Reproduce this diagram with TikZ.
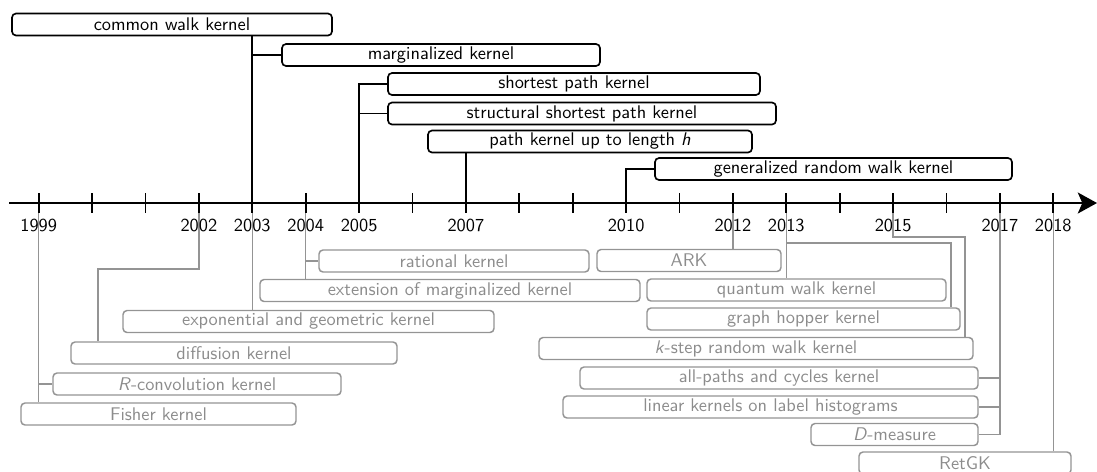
\documentclass[tikz,border=0pt]{standalone}
\usetikzlibrary{arrows.meta}
\begin{document}
\begin{tikzpicture}[x=0.545pt,y=-0.545pt,
  font=\sffamily,
  kb/.style={draw, rounded corners=2.2pt, inner sep=0pt, line width=0.9pt, minimum height=22*0.545pt},
  gb/.style={kb, draw=black!42, text=black!45, line width=0.8pt},
  bl/.style={line width=0.9pt},
  gl/.style={draw=black!42, line width=0.8pt},
  yl/.style={inner sep=0pt}]
\useasboundingbox (0,0) rectangle (1097,471);
% year coordinates
\foreach \i in {1999,...,2018}
  \coordinate (t\i) at ({38.7+(\i-1999)*53.4},203);
% top kernels
\node[kb, minimum width=320*0.545pt] (cwk) at (172,24.5) {common walk kernel};
\node[kb, minimum width=318*0.545pt] (mk) at (441,55) {marginalized kernel};
\node[kb, minimum width=372*0.545pt] (spk) at (574,84) {shortest path kernel};
\node[kb, minimum width=388*0.545pt] (sspk) at (582,113.5) {structural shortest path kernel};
\node[kb, minimum width=324*0.545pt] (pkh) at (590,141.5) {path kernel up to length \textit{h}};
\node[kb, minimum width=357*0.545pt] (grwk) at (833.5,169) {generalized random walk kernel};
% bottom kernels
\node[gb, minimum width=270*0.545pt] (rat) at (454,261) {rational kernel};
\node[gb, minimum width=380*0.545pt] (ext) at (450,290.5) {extension of marginalized kernel};
\node[gb, minimum width=371*0.545pt] (expg) at (308.5,321.5) {exponential and geometric kernel};
\node[gb, minimum width=326*0.545pt] (diff) at (234,353) {diffusion kernel};
\node[gb, minimum width=288*0.545pt] (rconv) at (197,384) {\textit{R}-convolution kernel};
\node[gb, minimum width=275*0.545pt] (fish) at (158.5,414) {Fisher kernel};
\node[gb, minimum width=184*0.545pt] (ark) at (689,260.5) {ARK};
\node[gb, minimum width=299*0.545pt] (qwk) at (796.5,290) {quantum walk kernel};
\node[gb, minimum width=313*0.545pt] (ghk) at (803.5,319) {graph hopper kernel};
\node[gb, minimum width=434*0.545pt] (kstep) at (756,348.5) {\textit{k}-step random walk kernel};
\node[gb, minimum width=398*0.545pt] (apc) at (779,378) {all-paths and cycles kernel};
\node[gb, minimum width=415*0.545pt] (lin) at (770.5,407) {linear kernels on label histograms};
\node[gb, minimum width=167*0.545pt] (dm) at (894.5,434.5) {\textit{D}-measure};
\node[gb, minimum width=212*0.545pt] (ret) at (965,463) {RetGK};
% helper coordinates
\coordinate (c2002) at (98,269);
\coordinate (c2013) at (951,243);
\coordinate (c2015) at (965,237);
% gray connectors
\draw[gl] (t1999) -- (t1999 |- fish.north);
\draw[gl] (t1999 |- rconv.west) -- (rconv.west);
\draw[gl] (t2002) |- (c2002) -- (c2002 |- diff.north);
\draw[gl] (t2003) -- (t2003 |- expg.north);
\draw[gl] (t2004) -- (t2004 |- ext.north);
\draw[gl] (t2004 |- rat.west) -- (rat.west);
\draw[gl] (t2012) -- (t2012 |- ark.north);
\draw[gl] (t2013) -- (t2013 |- qwk.north);
\draw[gl] (t2013 |- c2013) -- (c2013) -- (c2013 |- ghk.north);
\draw[gl] (t2015) |- (c2015) -- (c2015 |- kstep.north);
\draw[gl] (t2017) -- (t2017 |- dm.east) -- (dm.east);
\draw[gl] (t2017 |- apc.east) -- (apc.east);
\draw[gl] (t2017 |- lin.east) -- (lin.east);
\draw[gl] (t2018) -- (t2018 |- ret.north);
% black connectors
\draw[bl] (t2003) -- (t2003 |- cwk.south);
\draw[bl] (t2003 |- mk.west) -- (mk.west);
\draw[bl] (t2005) |- (spk.west);
\draw[bl] (t2005 |- sspk.west) -- (sspk.west);
\draw[bl] (t2007) -- (t2007 |- pkh.south);
\draw[bl] (t2010) |- (grwk.west);
% axis
\coordinate (axs) at (9,203);
\coordinate (axe) at (1097,203);
\draw[bl, -{Stealth[length=10.5pt, width=11.5pt, inset=2.5pt]}] (axs) -- (axe);
\foreach \i in {1999,...,2018}
  \draw[bl] ([yshift=5.4pt]t\i) -- ([yshift=-5.4pt]t\i);
\foreach \i in {1999,2002,2003,2004,2005,2007,2010,2012,2013,2015,2017,2018}
  \node[yl] (l\i) at (t\i |- 0,225) {\i};
\end{tikzpicture}
\end{document}
